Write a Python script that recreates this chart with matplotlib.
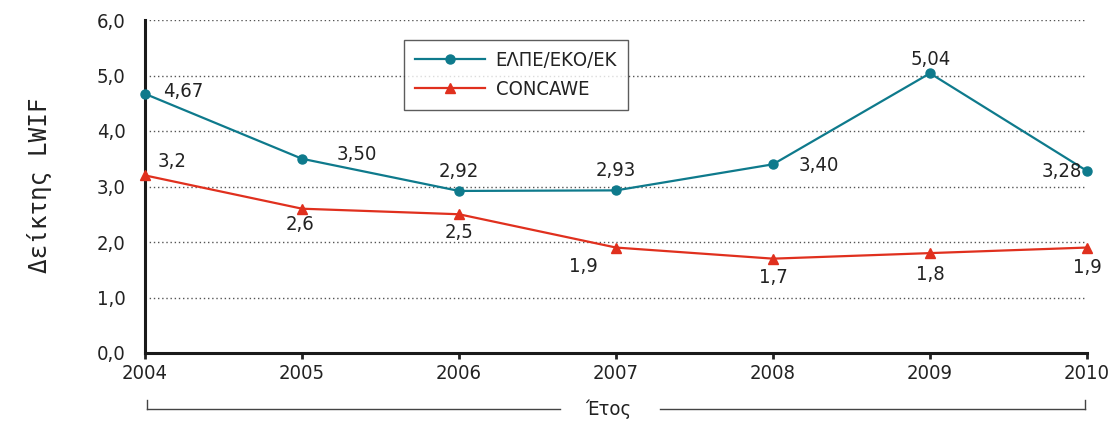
import matplotlib
matplotlib.use("Agg")
import matplotlib.pyplot as plt
from matplotlib.lines import Line2D

plt.rcParams['font.family'] = ['DejaVu Sans']
plt.rcParams['font.stretch'] = 'condensed'

years = [2004, 2005, 2006, 2007, 2008, 2009, 2010]
elpe = [4.67, 3.50, 2.92, 2.93, 3.40, 5.04, 3.28]
concawe = [3.2, 2.6, 2.5, 1.9, 1.7, 1.8, 1.9]
elpe_labels = ["4,67", "3,50", "2,92", "2,93", "3,40", "5,04", "3,28"]
concawe_labels = ["3,2", "2,6", "2,5", "1,9", "1,7", "1,8", "1,9"]
yticks = [0, 1, 2, 3, 4, 5, 6]
ytick_labels = ["0,0", "1,0", "2,0", "3,0", "4,0", "5,0", "6,0"]
series_names = ["ΕΛΠΕ/ΕΚΟ/ΕΚ", "CONCAWE"]
ylabel = "Δείκτης LWIF"
xlabel = "Έτος"

teal = "#0e7a8c"
red = "#e0301e"

fig = plt.figure(figsize=(11.16, 4.21), dpi=100)
ax = fig.add_axes([145/1116, 1-353/421, (1087-145)/1116, (353-20)/421])

ax.plot(years, elpe, color=teal, lw=1.6, marker='o', ms=6.5, label=series_names[0], zorder=3, clip_on=False)
ax.plot(years, concawe, color=red, lw=1.6, marker='^', ms=7.5, label=series_names[1], zorder=3, clip_on=False)

ax.set_xlim(2004, 2010)
ax.set_ylim(0, 6)
ax.set_xticks(years)
ax.set_xticklabels([str(y) for y in years])
ax.set_yticks(yticks)
ax.set_yticklabels(ytick_labels)
ax.tick_params(axis='y', length=0, pad=14, labelsize=14.5, colors='#222222')
ax.tick_params(axis='x', length=4, width=2, direction='out', pad=4, labelsize=14.5, colors='#222222')

for s in ['top', 'right']:
    ax.spines[s].set_visible(False)
for s in ['left', 'bottom']:
    ax.spines[s].set_linewidth(2.2)
    ax.spines[s].set_color('#1a1a1a')

for yv in yticks[1:]:
    ax.axhline(yv, color='#555555', lw=1.0, ls=(0, (1, 2)), zorder=1)

px = 0.72
elpe_off = [(38, 2), (55, 4), (0, 19), (0, 20), (46, -1), (1, 14), (-25, -1)]
conc_off = [(27, 14), (-2, -16), (0, -18), (-33, -19), (0, -19), (0, -21), (0, -20)]
for x, y, t, (dx, dy) in zip(years, elpe, elpe_labels, elpe_off):
    ax.annotate(t, (x, y), xytext=(dx*px, dy*px), textcoords='offset points',
                ha='center', va='center', fontsize=14.5, color='#222222', zorder=5)
for x, y, t, (dx, dy) in zip(years, concawe, concawe_labels, conc_off):
    ax.annotate(t, (x, y), xytext=(dx*px, dy*px), textcoords='offset points',
                ha='center', va='center', fontsize=14.5, color='#222222', zorder=5)

leg = ax.legend(loc='upper left', bbox_to_anchor=((404-145)/942, 1-(40-20)/333),
                borderaxespad=0, frameon=True, fancybox=False, fontsize=14.5,
                handlelength=3.45, borderpad=0.55, labelspacing=0.5, handletextpad=0.55)
leg.get_frame().set_edgecolor('#333333')
leg.get_frame().set_linewidth(1.0)
for txt in leg.get_texts():
    txt.set_color('#222222')

fig.text(40/1116, 1-185/421, ylabel, rotation=90, ha='center', va='center',
         fontsize=17.5, color='#222222', family=['DejaVu Sans Mono'], stretch='normal')

# x-axis bracket label
yb = 1-409/421
ytop = 1-400/421
fig.add_artist(Line2D([147/1116, 560/1116], [yb, yb], color='#444444', lw=1.0))
fig.add_artist(Line2D([660/1116, 1085/1116], [yb, yb], color='#444444', lw=1.0))
fig.add_artist(Line2D([147/1116, 147/1116], [yb, ytop], color='#444444', lw=1.0))
fig.add_artist(Line2D([1085/1116, 1085/1116], [yb, ytop], color='#444444', lw=1.0))
fig.text(608/1116, yb, xlabel, ha='center', va='center', fontsize=14.5, color='#222222')

fig.savefig("out.png", dpi=100)
